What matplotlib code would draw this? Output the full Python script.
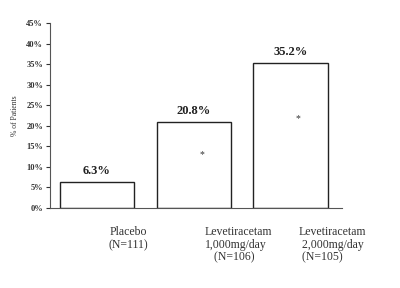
import matplotlib
matplotlib.use("Agg")
import matplotlib.pyplot as plt
from matplotlib.ticker import FuncFormatter, MultipleLocator

categories = ["Placebo\n(N=111)", "Levetiracetam\n1,000mg/day\n   (N=106)", "Levetiracetam\n 2,000mg/day\n (N=105)"]
values = [6.3, 20.8, 35.2]
value_labels = ["6.3%", "20.8%", "35.2%"]
significant = [False, True, True]

plt.rcParams['font.family'] = ['Liberation Serif', 'DejaVu Serif']

fig = plt.figure(figsize=(4.0, 2.88), dpi=100)
ax = fig.add_axes([0.125, 0.278, 0.73, 0.642])

x = list(range(len(values)))
bars = ax.bar(x, values, width=0.77, color="white", edgecolor="#222222", linewidth=1.0)

for xi, v, lab, sig in zip(x, values, value_labels, significant):
    ax.text(xi, v + 1.3, lab, ha="center", va="bottom", fontsize=9, fontweight="bold", color="#222222")
    if sig:
        ax.text(xi + 0.08, v * 0.62, "*", ha="center", va="center", fontsize=7, color="#333333")

ax.set_xlim(-0.485, 2.53)
ax.set_ylim(0, 45)
ax.yaxis.set_major_locator(MultipleLocator(5))
ax.yaxis.set_major_formatter(FuncFormatter(lambda v, p: f"{int(round(v))}%"))
ax.tick_params(axis="y", labelsize=6, length=3, width=0.8, colors="#333333", pad=2)
for t in ax.get_yticklabels():
    t.set_fontweight("bold")
ax.set_xticks([])
ax.spines["top"].set_visible(False)
ax.spines["right"].set_visible(False)
ax.spines["left"].set_color("#555555")
ax.spines["bottom"].set_color("#555555")
ax.set_ylabel("% of Patients", fontsize=5.5, color="#333333", labelpad=5)

label_x = [0.32, 0.46, 0.43]
aligns = ["center", "left", "left"]
for xi, cat, dx, al in zip(x, categories, label_x, aligns):
    ax.text(xi + dx, -0.1, cat, transform=ax.get_xaxis_transform(), ha="center", va="top",
            fontsize=8.5, color="#333333", linespacing=1.05, multialignment=al)

fig.savefig("out.png", dpi=100, facecolor="white")
